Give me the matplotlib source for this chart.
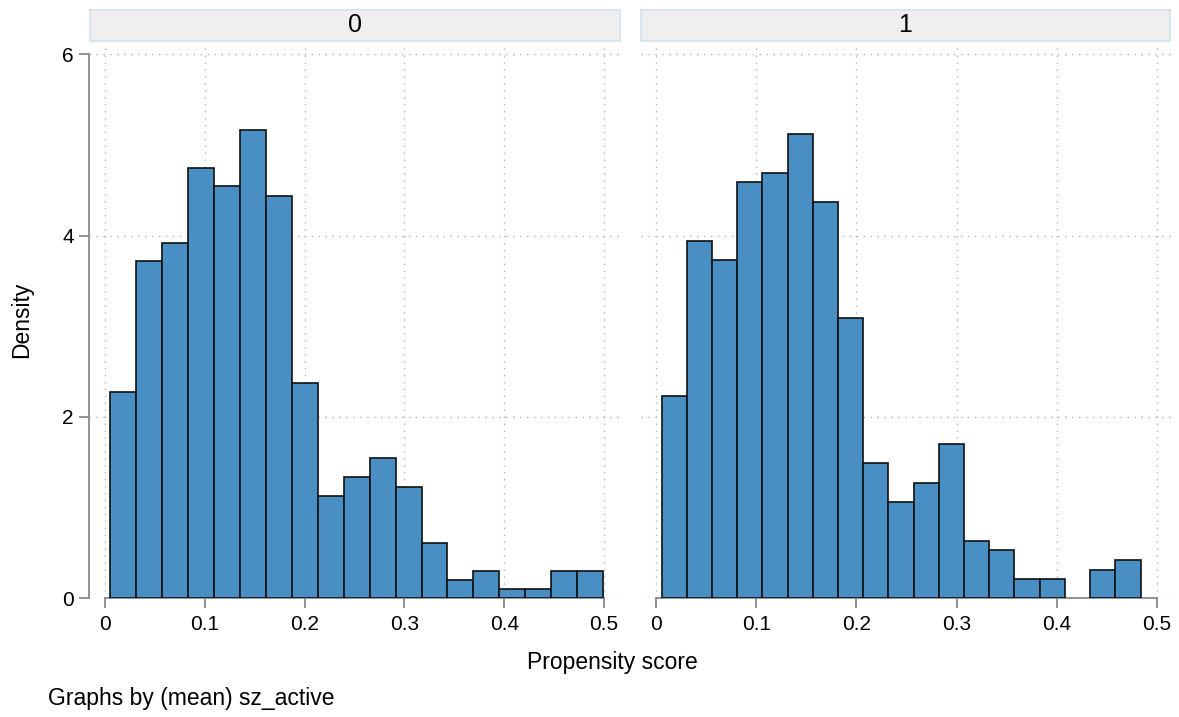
import numpy as np
import matplotlib.pyplot as plt

# Histogram of propensity score by group (density, Stata-style bins)
groups = ["0", "1"]
bin_start = [0.0055, 0.0055]
bin_width = [0.02597, 0.02516]
dens_0 = [2.27, 3.72, 3.92, 4.75, 4.55, 5.17, 4.44, 2.37, 1.13, 1.34, 1.54, 1.23,
          0.61, 0.20, 0.30, 0.10, 0.10, 0.30, 0.30]
dens_1 = [2.23, 3.94, 3.73, 4.59, 4.69, 5.12, 4.37, 3.09, 1.49, 1.06, 1.27, 1.70,
          0.63, 0.53, 0.21, 0.21, 0.0, 0.31, 0.42]
densities = [dens_0, dens_1]
x_ticks = [0, 0.1, 0.2, 0.3, 0.4, 0.5]
x_ticklabels = ["0", "0.1", "0.2", "0.3", "0.4", "0.5"]
y_ticks = [0, 2, 4, 6]

plt.rcParams["font.family"] = ["Liberation Sans", "DejaVu Sans"]

W, H = 1179, 717
fig = plt.figure(figsize=(W / 100, H / 100), dpi=100)

bar_color = "#4a8fc3"
axis_color = "#8a8a8a"
grid_color = "#b4b4b4"


def px_axes(x0, y0, x1, y1):
    # convert pixel box (top-left origin) to figure fraction
    return fig.add_axes([x0 / W, (H - y1) / H, (x1 - x0) / W, (y1 - y0) / H])


panels = [(89, 620, 105, 604, 90, 620), (641, 1171, 656, 1157, 641, 1170)]
top_px, bottom_px, six_px = 43, 598, 54.3

for i, (ax_l, ax_r, zero_px, half_px, s_l, s_r) in enumerate(panels):
    ax = px_axes(ax_l, top_px, ax_r, bottom_px)
    ppu = (half_px - zero_px) / 0.5
    ax.set_xlim(-(zero_px - ax_l) / ppu, 0.5 + (ax_r - half_px) / ppu)
    ypu = (bottom_px - six_px) / 6
    ax.set_ylim(0, 6 + (six_px - top_px) / ypu)

    edges = bin_start[i] + bin_width[i] * np.arange(len(densities[i]) + 1)
    vals = np.array(densities[i])
    keep = vals > 0
    ax.bar(edges[:-1][keep], vals[keep], width=bin_width[i], align="edge",
           color=bar_color, edgecolor="#111111", linewidth=1.2, zorder=3)

    ax.set_xticks(x_ticks)
    ax.set_xticklabels(x_ticklabels, fontsize=15)
    ax.set_yticks(y_ticks)
    ax.set_yticklabels([str(t) for t in y_ticks], fontsize=15)
    ax.grid(True, color=grid_color, linestyle=(0, (1, 4)), linewidth=1.0, zorder=0)
    ax.set_axisbelow(True)

    for s in ["top", "right"]:
        ax.spines[s].set_visible(False)
    ax.spines["bottom"].set_bounds(0, 0.5)
    ax.spines["bottom"].set_color(axis_color)
    ax.spines["bottom"].set_linewidth(1.3)
    ax.tick_params(axis="x", direction="out", length=7, width=1.3, color=axis_color, pad=5)
    if i == 0:
        ax.spines["left"].set_bounds(0, 6)
        ax.spines["left"].set_color(axis_color)
        ax.spines["left"].set_linewidth(1.3)
        ax.tick_params(axis="y", direction="out", length=7, width=1.3, color=axis_color, pad=4)
    else:
        ax.spines["left"].set_visible(False)
        ax.tick_params(axis="y", length=0, labelleft=False)

    # strip with group label
    sx = px_axes(s_l, 10, s_r, 41)
    sx.set_xticks([])
    sx.set_yticks([])
    sx.set_facecolor("#efefef")
    for s in sx.spines.values():
        s.set_color("#d3e3ec")
        s.set_linewidth(1.2)
    sx.text(0.5, 0.5, groups[i], ha="center", va="center", fontsize=18,
            transform=sx.transAxes)

fig.text(22 / W, 1 - 320 / H, "Density", rotation=90, ha="center", va="center", fontsize=16.5)
fig.text(612 / W, 1 - 663 / H, "Propensity score", ha="center", va="center", fontsize=16.5)
fig.text(48 / W, 1 - 698 / H, "Graphs by (mean) sz_active", ha="left", va="center", fontsize=16.5)

fig.savefig("out.png", dpi=100)
